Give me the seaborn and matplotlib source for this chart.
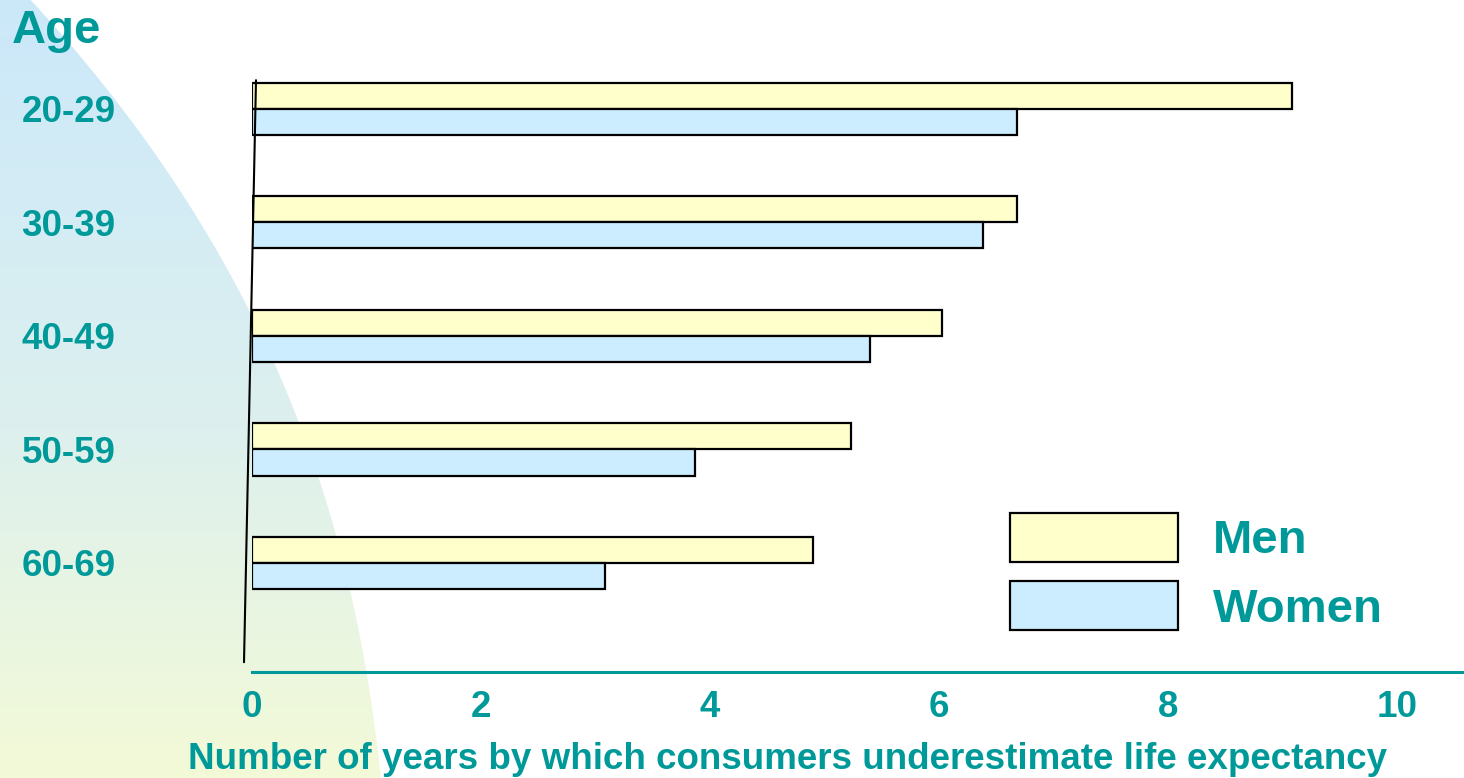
import numpy as np
import pandas as pd
import matplotlib
matplotlib.use("Agg")
import matplotlib.pyplot as plt
import seaborn as sns
from matplotlib.colors import LinearSegmentedColormap
from matplotlib.path import Path
from matplotlib.patches import PathPatch

# ---------------- data ----------------
ages = ["20-29", "30-39", "40-49", "50-59", "60-69"]
men = [9.08, 6.68, 6.03, 5.23, 4.90]
women = [6.68, 6.38, 5.40, 3.87, 3.08]
groups = ["Men", "Women"]
xticks = [0, 2, 4, 6, 8, 10]
x_title = "Number of years by which consumers underestimate life expectancy"
y_title = "Age"

# ---------------- style ----------------
sns.set_theme(style="white")
plt.rcParams["font.family"] = ["Liberation Sans", "DejaVu Sans"]
plt.rcParams["font.weight"] = "bold"
TEAL = "#009999"
colors = {"Men": "#FFFFCC", "Women": "#CCECFF"}

W, H = 1464, 778
fig = plt.figure(figsize=(W / 100, H / 100), dpi=100, facecolor="white")

# decorative gradient shape on the left
bg = fig.add_axes([0, 0, 1, 1], zorder=0)
bg.set_xlim(0, W)
bg.set_ylim(H, 0)
bg.axis("off")
cmap = LinearSegmentedColormap.from_list(
    "bg", [(0, "#CBE8FA"), (0.55, "#DDF0EE"), (1, "#F3FAD7")])
grad = np.linspace(0, 1, 256).reshape(-1, 1)
im = bg.imshow(grad, cmap=cmap, extent=[0, W, H, 0], aspect="auto")
cy = np.array([0, 100, 200, 300, 500, 640, 778])
cx = np.array([33, 110, 187, 248, 323, 361, 381])
coef = np.polyfit(cy, cx, 3)
yy = np.linspace(0, H, 100)
xx = np.polyval(coef, yy)
verts = [(0, 0)] + list(zip(xx, yy)) + [(0, H), (0, 0)]
patch = PathPatch(Path(verts), transform=bg.transData, facecolor="none", edgecolor="none")
bg.add_patch(patch)
im.set_clip_path(patch)

# ---------------- main chart ----------------
ax = fig.add_axes([252 / W, 1 - 672 / H, 1212 / W, 612 / H], zorder=1)
ax.set_facecolor("none")

df = pd.DataFrame({
    "age": ages * 2,
    "years": men + women,
    "sex": ["Men"] * len(ages) + ["Women"] * len(ages),
})
sns.barplot(data=df, x="years", y="age", hue="sex", order=ages, hue_order=groups,
            orient="h", palette=colors, edgecolor="black", linewidth=1.6,
            width=0.46, saturation=1, ax=ax)

ax.set_xlim(0, 10.585)
ax.set_ylim(4.96, -0.43)
ax.set_xticks(xticks)
ax.set_xticklabels([str(t) for t in xticks])
ax.tick_params(axis="both", length=0)
ax.tick_params(axis="x", pad=13, labelsize=26.5, labelcolor=TEAL)
ax.tick_params(axis="y", pad=132, labelsize=26.5, labelcolor=TEAL)
plt.setp(ax.get_yticklabels(), ha="center")

for s in ["top", "right", "left"]:
    ax.spines[s].set_visible(False)
ax.spines["bottom"].set_color(TEAL)
ax.spines["bottom"].set_linewidth(2.2)

# slanted vertical axis line
ax.plot([0.0033, -0.0066], [0.967, 0.016], transform=ax.transAxes,
        color="black", lw=1.5, clip_on=False)

ax.set_ylabel("")
ax.set_xlabel(x_title, fontsize=26.5, color=TEAL, fontweight="bold")
ax.xaxis.set_label_coords(0.442, -0.115)

fig.text(12 / W, 1 - 43 / H, y_title, fontsize=34, color=TEAL, fontweight="bold",
         va="baseline", ha="left")

ax.legend(loc="upper left", bbox_to_anchor=(1010 / W, 1 - 513 / H),
          bbox_transform=fig.transFigure, frameon=False,
          prop={"size": 34, "weight": "bold"}, labelcolor=TEAL,
          handlelength=3.56, handleheight=1.22, handletextpad=0.74,
          labelspacing=0.38, borderpad=0, borderaxespad=0)

fig.savefig("out.png", dpi=100, facecolor="white")
